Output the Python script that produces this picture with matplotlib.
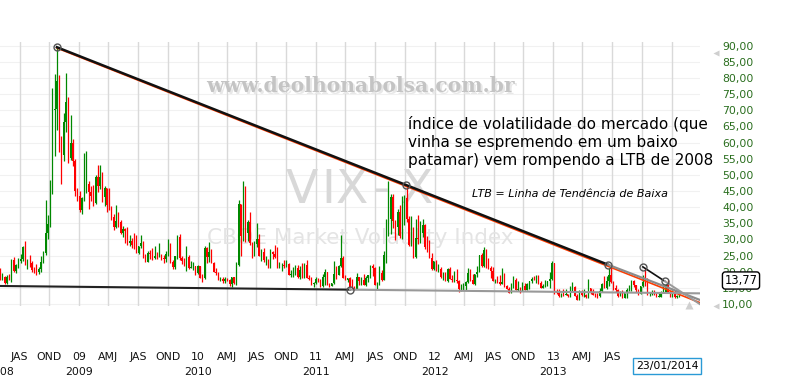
import numpy as np
import pandas as pd
import matplotlib
matplotlib.use("Agg")
import matplotlib.pyplot as plt
import matplotlib.dates as mdates
from matplotlib.lines import Line2D

# ---------------- data: weekly VIX candles (open, high, low, close) -------------
vix_2008 = [
    (20.8,21.0,17.4,18.2),(18.2,19.5,17.5,18.4),(18.4,18.6,16.3,16.5),(16.5,19.1,16.2,18.4),(18.4,19.4,17.3,17.8),
    (17.8,24.0,16.9,23.6),(23.6,24.5,20.0,20.1),(20.1,22.5,19.6,22.2),(22.2,24.4,21.0,23.4),(23.4,25.4,22.8,24.0),
    (24.0,27.9,23.2,27.5),(27.5,29.6,22.2,22.4),(22.4,24.0,20.9,22.8),(22.8,25.2,21.6,22.6),(22.6,23.3,19.8,20.6),
    (20.6,21.6,19.6,20.3),(20.3,22.3,19.0,19.8),(19.8,21.4,19.3,20.7),(20.7,24.8,19.9,23.1),(23.1,26.4,22.7,25.7),
    (25.7,42.2,25.2,32.1),(32.1,37.5,30.0,34.7),(34.7,48.4,33.8,45.1),(45.1,76.9,44.0,69.95),(69.95,81.2,55.8,70.3),
    (70.3,89.5,63.9,79.1),(79.1,81.0,57.1,59.9),(59.9,62.0,47.3,56.1),(56.1,69.2,54.3,66.3),(66.3,81.5,63.4,72.7),
    (72.7,74.0,53.7,55.3),(55.3,68.6,54.6,59.9),(59.9,61.2,52.6,54.3),(54.3,55.0,43.5,44.9),(44.9,46.0,42.0,43.4),
]
vix_2009 = [
    (43.4,44.9,38.6,39.2),(39.2,43.2,38.0,42.8),(42.8,56.7,42.0,46.1),(46.1,57.4,44.3,47.3),(47.3,48.0,39.5,44.8),
    (44.8,46.4,42.0,43.4),(43.4,46.8,40.2,41.3),(41.3,50.0,41.0,49.3),(49.3,53.2,44.6,46.4),(46.4,53.2,45.6,49.3),
    (49.3,51.0,41.7,43.0),(43.0,46.5,40.4,45.9),(45.9,46.0,38.6,40.8),(40.8,45.8,39.0,39.7),(39.7,40.5,36.0,37.0),
    (37.0,37.8,33.0,33.9),(33.9,40.6,33.5,35.8),(35.8,38.5,34.0,35.3),(35.3,36.0,31.6,32.1),(32.1,34.2,30.7,33.1),
    (33.1,33.6,28.8,32.6),(32.6,33.9,28.4,28.9),(28.9,31.5,27.9,29.6),(29.6,30.4,27.4,28.2),(28.2,32.0,27.0,27.0),
    (27.0,31.5,25.8,25.9),(25.9,28.0,25.4,27.95),(27.95,31.3,27.4,29.0),(29.0,29.6,24.3,24.3),(24.3,25.5,23.1,23.1),
    (23.1,26.4,23.0,25.9),(25.9,26.8,23.8,25.4),(25.4,27.2,23.5,24.2),(24.2,28.0,23.9,25.0),(25.0,26.1,23.9,24.8),
    (24.8,29.0,24.5,25.3),(25.3,25.5,23.6,24.2),(24.2,25.1,22.7,23.9),(23.9,26.3,22.9,25.6),(25.6,30.2,24.8,28.7),
    (28.7,28.9,22.7,23.1),(23.1,23.5,20.9,21.4),(21.4,25.0,20.9,24.9),(24.9,31.3,23.8,30.7),(30.7,31.7,23.5,24.2),
    (24.2,24.9,22.3,23.4),(23.4,24.4,21.7,23.0),(23.0,28.1,20.1,24.7),(24.7,25.1,20.9,21.3),(21.3,23.4,21.2,21.6),
    (21.6,23.1,20.6,21.7),(21.7,21.7,19.0,19.5),(19.5,22.1,19.4,21.7),
]
vix_2010 = [
    (21.7,21.7,18.0,18.1),(18.1,19.3,16.9,17.9),(17.9,28.0,17.6,27.3),(27.3,27.6,22.8,24.6),(24.6,29.2,22.9,26.1),
    (26.1,26.9,22.6,22.7),(22.7,23.0,19.9,20.0),(20.0,21.3,19.1,19.5),(19.5,20.0,17.3,17.4),(17.4,18.4,17.0,17.6),
    (17.6,18.5,16.4,16.97),(16.97,18.3,16.6,17.8),(17.8,18.1,17.0,17.5),(17.5,17.6,15.6,16.1),(16.1,18.4,15.2,18.4),
    (18.4,18.5,16.3,16.6),(16.6,23.0,16.0,22.05),(22.05,42.2,21.9,40.95),(40.95,41.0,24.9,31.2),(31.2,48.2,29.6,40.1),
    (40.1,46.6,29.2,32.1),(32.1,36.0,29.4,35.5),(35.5,38.5,28.3,28.8),(28.8,29.3,24.3,25.05),(25.05,29.4,25.0,28.5),
    (28.5,35.0,27.5,30.1),(30.1,31.7,24.8,24.98),(24.98,26.9,23.4,26.25),(26.25,27.3,22.9,23.5),(23.5,25.0,22.2,23.55),
    (23.55,23.9,21.0,21.7),(21.7,27.0,21.2,26.2),(26.2,26.5,23.9,25.5),(25.5,28.4,24.3,24.45),(24.45,27.5,21.2,21.3),
    (21.3,23.0,21.0,21.99),(21.99,22.6,20.3,22.01),(22.01,23.5,21.1,21.7),(21.7,23.7,21.5,22.5),(22.5,22.8,18.9,18.96),
    (18.96,20.6,18.4,19.03),(19.03,21.4,18.5,19.08),(19.08,22.0,19.0,21.2),(21.2,22.0,18.1,18.3),(18.3,21.7,17.8,20.6),
    (20.6,22.6,18.0,18.04),(18.04,22.8,17.9,22.2),(22.2,23.7,17.9,18.0),(18.0,18.9,17.3,17.6),(17.6,18.4,15.9,16.1),
    (16.1,16.7,15.4,16.5),(16.5,18.4,16.3,17.75),
]
vix_2011 = [
    (17.75,18.1,16.8,17.1),(17.1,17.6,15.3,15.5),(15.5,19.2,15.3,18.5),(18.5,20.9,15.9,20.0),(20.0,20.0,15.8,15.9),
    (15.9,16.6,15.3,15.7),(15.7,16.5,15.6,16.4),(16.4,23.2,16.3,19.2),(19.2,21.7,17.7,19.1),(19.1,22.1,19.0,21.9),
    (21.9,31.3,21.5,24.4),(24.4,24.9,17.9,17.9),(17.9,19.0,17.3,17.4),(17.4,18.0,16.7,17.9),(17.9,18.4,15.2,15.3),
    (15.3,17.7,14.6,15.1),(15.1,15.7,14.3,14.75),(14.75,19.5,14.6,18.4),(18.4,18.5,15.9,17.1),(17.1,18.4,15.9,17.4),
    (17.4,19.4,15.9,15.98),(15.98,18.7,15.6,17.95),(17.95,19.1,16.9,18.9),(18.9,22.0,18.2,21.85),(21.85,22.5,18.7,21.1),
    (21.1,21.6,15.8,15.9),(15.9,16.7,14.6,15.95),(15.95,21.9,15.8,19.5),(19.5,20.6,17.0,17.5),(17.5,26.4,17.4,25.25),
    (25.25,36.2,22.7,32.0),(32.0,48.0,31.0,36.4),(36.4,44.1,31.6,43.05),(43.05,44.0,33.5,35.6),(35.6,36.0,29.7,33.9),
    (33.9,39.5,31.5,38.5),(38.5,40.6,30.4,30.98),(30.98,43.5,30.2,41.25),(41.25,43.7,34.5,42.96),(42.96,46.9,35.4,36.2),
    (36.2,37.3,27.9,28.2),(28.2,37.2,28.1,31.3),(31.3,34.0,24.3,24.5),(24.5,36.3,24.2,30.5),(30.5,37.5,28.7,30.0),
    (30.0,35.6,29.0,32.0),(32.0,36.3,30.9,34.5),(34.5,34.9,27.0,27.5),(27.5,31.2,26.0,26.4),(26.4,29.9,24.1,24.3),
    (24.3,25.9,20.5,20.7),(20.7,23.4,20.4,23.4),
]
vix_2012 = [
    (23.4,23.6,20.3,20.6),(20.6,22.3,19.8,20.9),(20.9,21.4,18.2,18.3),(18.3,20.0,17.3,18.5),(18.5,20.0,17.0,17.1),
    (17.1,21.0,16.8,20.8),(20.8,21.5,17.6,17.8),(17.8,19.0,16.8,17.3),(17.3,20.2,16.9,17.35),(17.35,20.9,16.6,17.1),
    (17.1,17.4,13.7,14.5),(14.5,16.2,13.9,15.0),(15.0,16.6,14.3,15.5),(15.5,17.2,14.2,16.7),(16.7,21.1,16.5,19.55),
    (19.55,20.8,17.2,17.4),(17.4,19.2,16.2,16.3),(16.3,19.4,15.9,19.2),(19.2,21.7,18.5,19.9),(19.9,25.3,19.8,25.1),
    (25.1,25.7,21.5,21.8),(21.8,27.7,21.5,26.7),(26.7,27.0,21.1,21.2),(21.2,24.4,20.9,21.1),(21.1,21.9,17.9,20.1),
    (20.1,21.6,17.0,17.1),(17.1,17.6,16.5,17.15),(17.15,18.8,16.6,16.7),(16.7,19.0,15.9,16.3),(16.3,21.3,16.2,16.7),
    (16.7,19.5,15.3,15.6),(15.6,16.0,14.6,14.7),(14.7,15.4,13.3,13.45),(13.45,16.4,13.3,15.2),(15.2,18.6,14.9,17.5),
    (17.5,17.9,14.3,14.4),(14.4,17.2,14.0,14.5),(14.5,15.4,13.3,13.98),(13.98,16.9,13.9,15.7),(15.7,16.4,14.2,14.3),
    (14.3,16.5,14.2,16.1),(16.1,17.2,14.8,17.1),(17.1,18.5,16.5,17.8),(17.8,18.7,17.4,17.6),(17.6,19.0,16.6,18.6),
    (18.6,18.9,16.2,16.4),(16.4,17.2,15.0,15.1),(15.1,16.2,15.0,15.7),(15.7,17.5,15.4,16.6),(16.6,17.2,15.6,17.0),
    (17.0,19.8,15.0,17.8),(17.8,23.2,17.3,22.7),
]
vix_2013 = [
    (22.7,22.7,13.2,13.8),(13.8,14.6,13.1,13.4),(13.4,14.5,12.3,12.5),(12.5,13.5,12.3,12.9),(12.9,14.6,12.4,12.85),
    (12.85,14.5,12.8,13.0),(13.0,13.1,12.3,12.5),(12.5,15.6,12.3,14.2),(14.2,16.8,13.6,15.4),(15.4,15.6,12.5,12.6),
    (12.6,13.1,11.1,11.3),(11.3,14.4,11.2,13.6),(13.6,14.3,12.5,12.7),(12.7,14.5,12.2,12.9),(12.9,13.2,11.9,12.1),
    (12.1,17.6,12.0,14.97),(14.97,15.0,13.1,13.6),(13.6,14.6,12.8,12.85),(12.85,13.4,12.3,12.6),(12.6,13.4,11.9,12.45),
    (12.45,15.0,12.3,14.0),(14.0,16.4,13.8,16.3),(16.3,18.6,15.0,15.1),(15.1,18.6,14.6,17.15),(17.15,21.0,15.6,18.9),
    (18.9,21.9,16.4,16.9),(16.9,17.0,14.4,14.9),(14.9,16.0,13.8,14.4),(14.4,14.6,12.3,12.5),(12.5,13.9,12.4,12.7),
    (12.7,14.3,11.8,11.98),(11.98,13.5,11.9,13.4),(13.4,15.1,11.9,14.4),(14.4,16.0,13.9,14.8),(14.8,17.4,14.1,17.0),
    (17.0,17.3,15.2,15.85),(15.85,16.0,13.7,14.2),(14.2,14.5,12.8,13.1),(13.1,15.6,13.0,15.5),(15.5,19.0,15.3,16.7),
    (16.7,21.3,15.6,15.7),(15.7,18.2,12.9,13.0),(13.0,13.8,12.6,13.1),(13.1,14.3,12.8,13.2),(13.2,14.3,12.8,12.9),
    (12.9,13.4,12.1,12.2),(12.2,13.7,12.1,12.3),(12.3,14.0,12.2,13.7),(13.7,16.3,13.6,13.8),(13.8,16.3,13.7,15.8),
    (15.8,17.3,13.5,13.8),(13.8,14.0,12.3,12.5),
]
vix_2014 = [
    (12.5,14.4,12.3,13.8),(13.8,14.2,11.96,12.14),(12.14,12.8,11.8,12.44),(12.44,14.0,12.2,13.77),
]
first_week = '2008-05-02'          # Friday of the first weekly candle
last_value = '13,77'
last_date = '23/01/2014'

# trend-line anchor points (date, value)
ltb_dates = ['2008-10-24', '2011-10-04', '2013-06-18']
ltb_values = [89.53, 46.9, 22.2]
ltb_gray_end = 11.25
ltb_red_end = 10.4
ltb2_dates = ['2013-10-04', '2013-12-10']
ltb2_values = [21.5, 17.1]
support_dates = ['2008-05-02', '2011-04-15']
support_values = [15.58, 14.44]

y_ticks = list(range(10, 95, 5))
q_labels = ['JAS', 'OND', '09', 'AMJ', 'JAS', 'OND', '10', 'AMJ', 'JAS', 'OND', '11', 'AMJ',
            'JAS', 'OND', '12', 'AMJ', 'JAS', 'OND', '13', 'AMJ', 'JAS']
year_labels = ['2008', '2009', '2010', '2011', '2012', '2013']

note_lines = ['índice de volatilidade do mercado (que',
              'vinha se espremendo em um baixo',
              'patamar) vem rompendo a LTB de 2008']
note_ltb = 'LTB = Linha de Tendência de Baixa'
wm_title = 'VIX-X'
wm_sub = 'CBOE Market Volatility Index'
wm_site = 'www.deolhonabolsa.com.br'

# ---------------- figure --------------------------------------------------------
W, H = 800, 380
fig = plt.figure(figsize=(W / 100, H / 100), dpi=100)
fig.patch.set_facecolor('white')
AX_L, AX_R, AX_T, AX_B = 0, 700, 42, 306
ax = fig.add_axes([AX_L / W, 1 - AX_B / H, (AX_R - AX_L) / W, (AX_B - AX_T) / H])


def fx(px):
    return px / W


def fy(py):
    return 1 - py / H


# x limits: Jan 1 2009 sits at pixel 79.3, one year = 118.5 px
jan09 = mdates.date2num(pd.Timestamp('2009-01-01'))
px_per_day = 118.5 / 365.25
x_left = jan09 - 79.3 / px_per_day
x_right = jan09 + (700 - 79.3) / px_per_day
ax.set_xlim(x_left, x_right)
ax.set_ylim(9.38, 91.15)


def data_x_to_fig(xd):
    return fx(AX_L + (xd - x_left) * px_per_day)


ohlc = np.array(vix_2008 + vix_2009 + vix_2010 + vix_2011 + vix_2012 + vix_2013 + vix_2014)
o, h, l, c = ohlc.T
weeks = pd.date_range(first_week, periods=len(ohlc), freq='W-FRI')
x = mdates.date2num(weeks.to_pydatetime())
cols = np.where(c >= o, '#008800', '#ff0000')

ax.vlines(x, l, h, colors=cols, lw=0.9, zorder=3)
ax.bar(x, np.maximum(np.abs(c - o), 0.2), bottom=np.minimum(o, c), width=3.6,
       color=cols, linewidth=0, zorder=3)

# grid and y axis
ax.set_yticks(y_ticks)
ax.set_yticklabels([f'{v},00' for v in y_ticks])
ax.yaxis.tick_right()
ax.tick_params(axis='y', length=0, pad=16, labelsize=7.8, labelcolor='#2a6e1e')
ax.grid(axis='y', color='#f1f1f1', lw=0.8)
grid_q = pd.date_range('2008-07-01', '2014-01-01', freq='QS')
for d in mdates.date2num(grid_q.to_pydatetime()):
    ax.axvline(d, color='#d9d9d9', lw=1.0, zorder=0.6)
ax.set_xticks([])
for s in ax.spines.values():
    s.set_visible(False)
ax.set_axisbelow(True)

# watermarks (behind data)
for ch, cx in zip(wm_title, [302, 328, 352, 381, 417]):
    ax.text(fx(cx), fy(203), ch, transform=fig.transFigure, ha='center', va='baseline',
            fontsize=34, color='#d8d8d8', zorder=0.7)
ax.text(fx(360), fy(244), wm_sub, transform=fig.transFigure, ha='center',
        va='baseline', fontsize=15.5, color='#e4e4e4', zorder=0.7)
ax.text(fx(362), fy(93.5), wm_site, transform=fig.transFigure, ha='center',
        va='baseline', fontsize=14.6, fontweight='bold', family='DejaVu Serif', color='#e8e8e8', zorder=0.7)
ax.text(fx(360), fy(92), wm_site, transform=fig.transFigure, ha='center',
        va='baseline', fontsize=14.6, fontweight='bold', family='DejaVu Serif', color='#c4c4c4', zorder=0.8)


# trend lines
def dnum(s):
    return mdates.date2num(pd.Timestamp(s))


def extend(x0, y0, x1, y1, xe):
    return y0 + (y1 - y0) * (xe - x0) / (x1 - x0)


lx = [dnum(d) for d in ltb_dates]
ly = ltb_values
ax.plot([lx[0], x_right], [ly[0] - 0.25, ltb_red_end], color='#ff3c00', lw=1.2, zorder=4)
ax.plot([lx[0], lx[2]], [ly[0], ly[2]], color='#111111', lw=1.8, zorder=5)
ax.plot([lx[2], x_right], [ly[2], ltb_gray_end], color='#8c8c8c', lw=1.6, zorder=5)

l2x = [dnum(d) for d in ltb2_dates]
ax.plot(l2x, ltb2_values, color='#111111', lw=1.2, zorder=5)
ax.plot([l2x[1], x_right], [ltb2_values[1], extend(l2x[0], ltb2_values[0], l2x[1], ltb2_values[1], x_right)],
        color='#9a9a9a', lw=1.4, zorder=5)

sx = [dnum(d) for d in support_dates]
sy = support_values
ax.plot([x_left, sx[1]], [sy[0], sy[1]], color='#222222', lw=1.5, zorder=5)
ax.plot([sx[1], x_right], [sy[1], extend(sx[0], sy[0], sx[1], sy[1], x_right)],
        color='#999999', lw=1.5, zorder=5)

circ_x = lx + l2x + [sx[1]]
circ_y = list(ly) + list(ltb2_values) + [sy[1]]
ax.plot(circ_x, circ_y, linestyle='none', marker='o', ms=5, mfc='none', mec='#555555', mew=1.0, zorder=6)

# x axis labels (quarters and years)
q_pos = mdates.date2num(pd.date_range('2008-07-01', '2013-07-01', freq='QS').to_pydatetime())
for xp, lab in zip(q_pos, q_labels):
    fig.text(data_x_to_fig(xp), fy(360.5), lab, ha='center', va='baseline', fontsize=7.8, color='#111111')

year_pos = [x_left] + list(mdates.date2num(pd.date_range('2009-01-01', '2013-01-01', freq='YS').to_pydatetime()))
for xp, lab in zip(year_pos, year_labels):
    fig.text(data_x_to_fig(xp), fy(375), lab, ha='center', va='baseline', fontsize=7.8, color='#111111')

# notes
for i, line in enumerate(note_lines):
    fig.text(fx(408), fy(129 + 18 * i), line, ha='left', va='baseline', fontsize=11, color='#000000')
fig.text(fx(472), fy(197), note_ltb, ha='left', va='baseline', fontsize=8, style='italic', color='#000000')

# last value and date boxes
fig.text(fx(741), fy(280.5), last_value, ha='center', va='center', fontsize=8.3, color='#000000', zorder=10,
         bbox=dict(boxstyle='round,pad=0.18,rounding_size=0.25', fc='white', ec='#000000', lw=1.0))
fig.text(fx(667), fy(366), last_date, ha='center', va='center', fontsize=7.8, color='#000000', zorder=10,
         bbox=dict(boxstyle='square,pad=0.25', fc='white', ec='#2a9ad6', lw=1.0))

# small scroll markers
for (mx, my, mk, ms) in [(716, 53, '<', 5), (716, 306, '<', 5), (689, 305, '^', 6)]:
    fig.add_artist(Line2D([fx(mx)], [fy(my)], marker=mk, ms=ms, color='#cfcfcf', mec='none',
                          transform=fig.transFigure))

fig.savefig('out.png', dpi=100, facecolor='white')
